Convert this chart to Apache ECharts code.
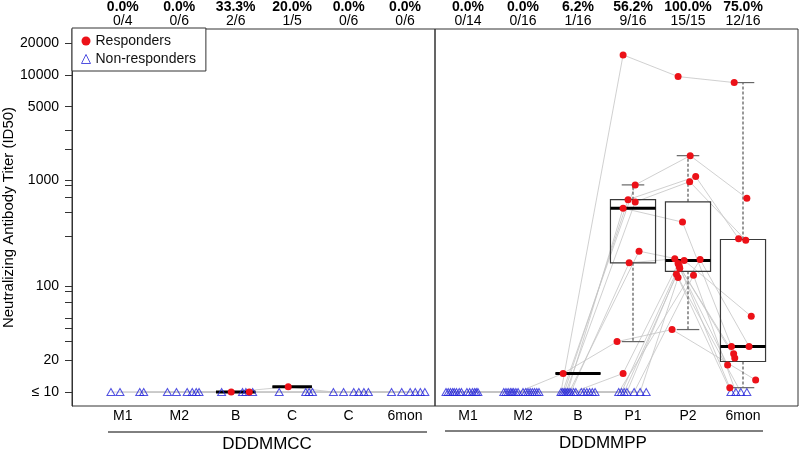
<!DOCTYPE html>
<html>
<head>
<meta charset="utf-8">
<script src="https://cdn.jsdelivr.net/npm/echarts@6/dist/echarts.min.js"></script>
<style>
html, body { margin: 0; padding: 0; background: #fff; }
#main { width: 800px; height: 450px; }
</style>
</head>
<body>
<div id="main"></div>
<script>
// categories and header labels
var timeLeft = ['M1', 'M2', 'B', 'C', 'C', '6mon'];
var timeRight = ['M1', 'M2', 'B', 'P1', 'P2', '6mon'];
var pctLeft = ['0.0%', '0.0%', '33.3%', '20.0%', '0.0%', '0.0%'];
var fracLeft = ['0/4', '0/6', '2/6', '1/5', '0/6', '0/6'];
var pctRight = ['0.0%', '0.0%', '6.2%', '56.2%', '100.0%', '75.0%'];
var fracRight = ['0/14', '0/16', '1/16', '9/16', '15/15', '12/16'];
var groupNames = ['DDDMMCC', 'DDDMMPP'];

// y axis ticks
var yTicks = [10, 20, 30, 40, 50, 70, 90, 100, 300, 500, 700, 900, 1000, 2000, 3000, 5000, 10000, 20000];
var yLabels = [10, 20, 100, 1000, 5000, 10000, 20000];

// titers per subject: M1, M2, B, C/P1, C/P2, 6mon (null = not sampled)
var leftTiters = [
    [10, 10, 10, 11.2, 10, 10],
    [10, 10, 10, 10, 10, 10],
    [null, 10, 10, 10, 10, 10],
    [10, 10, 10, 10, 10, 10],
    [10, 10, 10, null, 10, 10],
    [null, 10, 10, 10, 10, 10]
];
// [subject, timepoint] of responders in left panel
var leftResponders = [[0, 2], [1, 2], [0, 3]];

var rightTiters = [
    [10, 10, 10, 15450, 9640, 8460],
    [10, 10, 10, 911, 1722, 681],
    [10, 10, 10, 660, 1091, 282],
    [10, 10, 10, 628, 978, 273],
    [10, 10, 10, 548, 405, 27],
    [10, 10, 10, 215, 176, 52],
    [10, 10, 10, 167, 182, 23],
    [10, 10, 15, 30, 39, 13],
    [10, 10, 10, 15, 164, 11],
    [10, 10, 10, 10, 179, 27],
    [10, 10, 10, 10, 156, 21],
    [10, 10, 10, 10, 148, 18],
    [null, 10, 10, 10, 130, 10],
    [null, 10, 10, 10, 127, 10],
    [10, 10, 10, 10, 121, 10],
    [10, 10, 10, 10, null, 10]
];

// horizontal jitter of each point, in category units
var leftJitter = [
    [-0.21, -0.21, -0.08, -0.07, -0.27, -0.24],
    [-0.05, -0.05, 0.24, -0.23, -0.09, -0.06],
    [0, 0.14, -0.25, 0.24, 0.09, 0.09],
    [0.30, 0.23, 0.12, 0.30, 0.18, 0.18],
    [0.37, 0.30, 0.18, 0, 0.27, 0.27],
    [0, 0.35, 0.30, 0.36, 0.35, 0.35]
];
var rightJitter = [
    [-0.40, -0.35, -0.31, -0.18, -0.18, -0.16],
    [-0.36, -0.31, -0.28, 0.04, 0.04, 0.07],
    [-0.32, -0.27, -0.25, -0.09, 0.14, -0.08],
    [-0.28, -0.23, -0.22, 0.04, 0.03, 0.05],
    [-0.25, -0.20, -0.19, -0.18, -0.10, -0.21],
    [-0.21, -0.17, -0.16, 0.11, -0.07, 0.15],
    [-0.16, -0.13, -0.13, -0.07, -0.24, -0.17],
    [-0.12, -0.09, -0.27, -0.29, -0.29, 0.23],
    [-0.02, 0.0, -0.08, -0.18, -0.18, -0.24],
    [0.03, 0.05, -0.04, -0.26, 0.22, 0.11],
    [0.08, 0.09, 0.06, -0.21, -0.16, -0.15],
    [0.12, 0.13, 0.11, -0.16, -0.15, -0.28],
    [0, 0.17, 0.16, -0.11, -0.21, -0.22],
    [0, 0.21, 0.21, 0.02, 0.10, -0.13],
    [0.15, 0.25, 0.26, 0.13, -0.18, -0.04],
    [0.18, 0.29, 0.31, 0.24, 0, 0.07]
];

var RED = '#ec1118';
var BLUE = '#2626d9';
var FONT = '"Liberation Sans", Arial, Helvetica, sans-serif';

function isRespLeft(s, t) {
    return leftResponders.some(function (p) { return p[0] === s && p[1] === t; });
}
function isRespRight(s, t) {
    return rightTiters[s][t] > 10;
}

// R-style boxplot stats (fivenum hinges, 1.5 IQR whiskers) on log10 titers
function fivenum(a) {
    var n = a.length, n4 = Math.floor((n + 3) / 2) / 2;
    return [1, n4, (n + 1) / 2, n + 1 - n4, n].map(function (d) {
        return 0.5 * (a[Math.floor(d) - 1] + a[Math.ceil(d) - 1]);
    });
}
function boxStats(vals) {
    var lg = vals.map(Math.log10).sort(function (a, b) { return a - b; });
    var f = fivenum(lg), iqr = f[3] - f[1];
    var inside = lg.filter(function (v) { return v >= f[1] - 1.5 * iqr && v <= f[3] + 1.5 * iqr; });
    return [inside[0], f[1], f[2], f[3], inside[inside.length - 1]].map(function (v) { return Math.pow(10, v); });
}

function renderBox(halfW) {
    return function (params, api) {
        var x = api.value(0);
        var xl = api.coord([x - halfW, 10])[0], xr = api.coord([x + halfW, 10])[0];
        var xc = api.coord([x, 10])[0];
        var cl = api.coord([x - halfW / 2, 10])[0], cr = api.coord([x + halfW / 2, 10])[0];
        var y = [1, 2, 3, 4, 5].map(function (i) { return api.coord([x, api.value(i)])[1]; });
        var dash = {stroke: '#555', lineWidth: 1.2, lineDash: [3, 2]};
        var cap = {stroke: '#666', lineWidth: 1.2};
        return {
            type: 'group',
            children: [
                {type: 'line', shape: {x1: xc, y1: y[3], x2: xc, y2: y[4]}, style: dash},
                {type: 'line', shape: {x1: xc, y1: y[1], x2: xc, y2: y[0]}, style: dash},
                {type: 'line', shape: {x1: cl, y1: y[4], x2: cr, y2: y[4]}, style: cap},
                {type: 'line', shape: {x1: cl, y1: y[0], x2: cr, y2: y[0]}, style: cap},
                {type: 'rect', shape: {x: xl, y: y[3], width: xr - xl, height: y[1] - y[3]},
                    style: {fill: 'none', stroke: '#3a3a3a', lineWidth: 1.2}},
                {type: 'line', shape: {x1: xl, y1: y[2], x2: xr, y2: y[2]}, style: {stroke: '#000', lineWidth: 3}}
            ]
        };
    };
}

function panelSeries(gi, titers, jitter, isResp, halfW) {
    var list = [];
    var red = [], tri = [], boxes = [];
    // subject trajectories
    titers.forEach(function (row, s) {
        var seg = [];
        row.forEach(function (v, t) {
            if (v == null) {
                if (seg.length > 1) list.push(seg);
                seg = [];
                return;
            }
            seg.push([t + 1 + jitter[s][t], v]);
            (isResp(s, t) ? red : tri).push([t + 1 + jitter[s][t], v]);
        });
        if (seg.length > 1) list.push(seg);
    });
    var out = list.map(function (seg) {
        return {
            type: 'line', xAxisIndex: gi * 2, yAxisIndex: gi, data: seg,
            symbol: 'none', silent: true, z: 1,
            lineStyle: {color: '#c4c4c4', width: 0.8}
        };
    });
    // boxplots of responders per timepoint
    for (var t = 0; t < 6; t++) {
        var vals = [];
        titers.forEach(function (row, s) {
            if (row[t] != null && isResp(s, t)) vals.push(row[t]);
        });
        if (vals.length) boxes.push([t + 1].concat(boxStats(vals)));
    }
    out.push({
        type: 'custom', xAxisIndex: gi * 2, yAxisIndex: gi, data: boxes, z: 2, silent: true,
        encode: {x: 0, y: [1, 2, 3, 4, 5]},
        renderItem: renderBox(halfW)
    });
    out.push({
        name: 'Non-responders', type: 'scatter', xAxisIndex: gi * 2, yAxisIndex: gi, data: tri, z: 3,
        symbol: 'triangle', symbolSize: [8, 7],
        itemStyle: {color: 'rgba(255,255,255,0)', borderColor: BLUE, borderWidth: 1}
    });
    out.push({
        name: 'Responders', type: 'scatter', xAxisIndex: gi * 2, yAxisIndex: gi, data: red, z: 4,
        symbol: 'circle', symbolSize: 7,
        itemStyle: {color: RED, opacity: 1}
    });
    return out;
}

function xAxes(gi, range, names, pct, frac) {
    var base = {
        gridIndex: gi, type: 'value', min: range[0], max: range[1],
        axisLine: {show: false}, axisTick: {show: false}, splitLine: {show: false}
    };
    return [
        Object.assign({}, base, {
            position: 'bottom',
            axisLabel: {
                customValues: [1, 2, 3, 4, 5, 6], margin: 3, fontSize: 14, color: '#000', fontFamily: FONT,
                formatter: function (v) { return names[Math.round(v) - 1]; }
            }
        }),
        Object.assign({}, base, {
            position: 'top',
            axisLabel: {
                customValues: [1, 2, 3, 4, 5, 6], margin: 1, color: '#000', fontFamily: FONT,
                formatter: function (v) {
                    var i = Math.round(v) - 1;
                    return '{p|' + pct[i] + '}\n{f|' + frac[i] + '}';
                },
                rich: {
                    p: {fontSize: 14, fontWeight: 'bold', lineHeight: 14, fontFamily: FONT, color: '#000'},
                    f: {fontSize: 14, lineHeight: 14, fontFamily: FONT, color: '#000'}
                }
            }
        })
    ];
}

var yMin = 7.38, yMax = 27170;

var option = {
    animation: false,
    backgroundColor: '#fff',
    textStyle: {fontFamily: FONT},
    grid: [
        {left: 72, top: 28, width: 363, height: 378, show: true, borderColor: '#333', borderWidth: 1},
        {left: 435, top: 28, width: 363, height: 378, show: true, borderColor: '#333', borderWidth: 1}
    ],
    legend: {
        left: 72, top: 28, orient: 'vertical',
        backgroundColor: '#fff', borderColor: '#333', borderWidth: 1, borderRadius: 0,
        padding: [6, 10, 5, 9], itemGap: 4, itemWidth: 9, itemHeight: 9,
        textStyle: {fontSize: 14, color: '#111', fontFamily: FONT},
        data: [
            {name: 'Responders', icon: 'circle', itemStyle: {color: RED, borderWidth: 0}},
            {name: 'Non-responders', icon: 'triangle', itemStyle: {color: '#fff', borderColor: BLUE, borderWidth: 1}}
        ]
    },
    xAxis: xAxes(0, [0.1, 6.53], timeLeft, pctLeft, fracLeft)
        .concat(xAxes(1, [0.4, 7.0], timeRight, pctRight, fracRight)),
    yAxis: [
        {
            gridIndex: 0, type: 'log', logBase: 10, min: yMin, max: yMax,
            name: 'Neutralizing Antibody Titer (ID50)', nameLocation: 'middle', nameGap: 54, nameRotate: 90,
            nameTextStyle: {fontSize: 15, color: '#000', fontFamily: FONT},
            axisLine: {show: true, lineStyle: {color: '#333'}},
            axisTick: {show: true, customValues: yTicks, length: 7, lineStyle: {color: '#333'}},
            axisLabel: {
                customValues: yLabels, margin: 13, fontSize: 14, color: '#000', fontFamily: FONT,
                formatter: function (v) {
                    var r = Math.round(v);
                    return r === 10 ? '\u2264 10' : String(r);
                }
            },
            splitLine: {show: false}
        },
        {gridIndex: 1, type: 'log', logBase: 10, min: yMin, max: yMax, show: false}
    ],
    graphic: [
        {type: 'line', shape: {x1: 108, y1: 432, x2: 427, y2: 432}, style: {stroke: '#000', lineWidth: 1}},
        {type: 'line', shape: {x1: 445, y1: 431, x2: 763, y2: 431}, style: {stroke: '#000', lineWidth: 1}},
        {type: 'text', x: 267, y: 444, style: {text: groupNames[0], fontSize: 17, fontFamily: FONT, fill: '#000', align: 'center', verticalAlign: 'middle'}},
        {type: 'text', x: 603, y: 443, style: {text: groupNames[1], fontSize: 17, fontFamily: FONT, fill: '#000', align: 'center', verticalAlign: 'middle'}}
    ],
    series: panelSeries(0, leftTiters, leftJitter, isRespLeft, 0.35)
        .concat(panelSeries(1, rightTiters, rightJitter, isRespRight, 0.41))
};

var myChart = echarts.init(document.getElementById('main'));
myChart.setOption(option);
</script>
</body>
</html>
